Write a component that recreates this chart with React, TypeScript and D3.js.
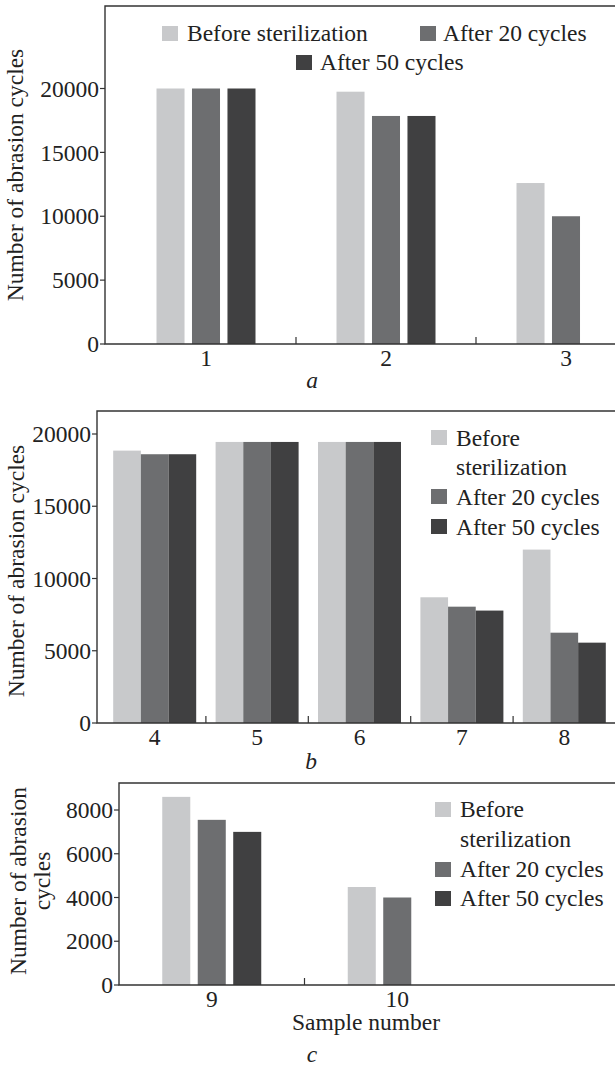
import React from "react";
import * as d3 from "d3";

const seriesNames = ["Before sterilization", "After 20 cycles", "After 50 cycles"];
const seriesColors = ["#c8c9cb", "#6d6e70", "#404041"];

// panel a
const samplesA = ["1", "2", "3"];
const beforeA = [20000, 19750, 12600];
const after20A = [20000, 17850, 10000];
const after50A = [20000, 17850, null];
const ticksA = [0, 5000, 10000, 15000, 20000];

// panel b
const samplesB = ["4", "5", "6", "7", "8"];
const beforeB = [18850, 19450, 19450, 8700, 12000];
const after20B = [18600, 19450, 19450, 8050, 6250];
const after50B = [18600, 19450, 19450, 7780, 5560];
const ticksB = [0, 5000, 10000, 15000, 20000];

// panel c
const samplesC = ["9", "10"];
const beforeC = [8600, 4480];
const after20C = [7550, 4000];
const after50C = [7000, null];
const ticksC = [0, 2000, 4000, 6000, 8000];

const FONT = '"Liberation Serif", "DejaVu Serif", "Times New Roman", serif';
const FS = 23.5;
const INK = "#333";

const panels = [
  {
    categories: samplesA,
    series: [beforeA, after20A, after50A],
    ticks: ticksA,
    yMax: 20000,
    left: 105,
    boxTop: 6,
    baseY: 344,
    topY: 88.5,
    xRange: [116, 656],
    groupW: 99,
    innerPad: 0.21,
    title: [{ text: "Number of abrasion cycles", x: 23 }],
    titleY: 175,
    letter: "a",
    letterPos: [312, 388],
    legend: [
      { sx: 162, sy: 26, tx: 187, lines: [seriesNames[0]], base: [41] },
      { sx: 420, sy: 26, tx: 443, lines: [seriesNames[1]], base: [41] },
      { sx: 296, sy: 55, tx: 320, lines: [seriesNames[2]], base: [70] },
    ],
  },
  {
    categories: samplesB,
    series: [beforeB, after20B, after50B],
    ticks: ticksB,
    yMax: 20000,
    left: 97,
    boxTop: 411,
    baseY: 723,
    topY: 434,
    xRange: [103.5, 615.5],
    groupW: 83,
    innerPad: 0,
    title: [{ text: "Number of abrasion cycles", x: 24 }],
    titleY: 571,
    letter: "b",
    letterPos: [311, 769],
    legend: [
      { sx: 431, sy: 430, tx: 456, lines: ["Before", "sterilization"], base: [446, 475] },
      { sx: 431, sy: 489, tx: 456, lines: [seriesNames[1]], base: [505] },
      { sx: 431, sy: 519, tx: 456, lines: [seriesNames[2]], base: [535] },
    ],
  },
  {
    categories: samplesC,
    series: [beforeC, after20C, after50C],
    ticks: ticksC,
    yMax: 8000,
    left: 119,
    boxTop: 783,
    baseY: 985,
    topY: 810,
    xRange: [119, 490],
    groupW: 99,
    innerPad: 0.21,
    title: [
      { text: "Number of abrasion", x: 26 },
      { text: "cycles", x: 50 },
    ],
    titleY: 881,
    letter: "c",
    letterPos: [312, 1062],
    xTitle: "Sample number",
    xTitlePos: [366, 1030],
    legend: [
      { sx: 435, sy: 802, tx: 460, lines: ["Before", "sterilization"], base: [817, 847] },
      { sx: 435, sy: 862, tx: 460, lines: [seriesNames[1]], base: [877] },
      { sx: 435, sy: 891, tx: 460, lines: [seriesNames[2]], base: [906] },
    ],
  },
];

const Panel = ({ cfg }) => {
  const y = d3.scaleLinear().domain([0, cfg.yMax]).range([cfg.baseY, cfg.topY]);
  const x0 = d3.scaleBand().domain(cfg.categories).range(cfg.xRange).padding(0);
  const x1 = d3
    .scaleBand()
    .domain(seriesNames)
    .range([0, cfg.groupW])
    .paddingInner(cfg.innerPad);
  const off = (x0.bandwidth() - cfg.groupW) / 2;
  const right = 617;

  return (
    <g style={{ fontFamily: FONT, fontSize: FS }} fill="#222">
      {/* bars */}
      {cfg.categories.map((c, i) =>
        seriesNames.map((name, s) => {
          const v = cfg.series[s][i];
          if (v == null) return null;
          return (
            <rect
              key={c + name}
              x={x0(c) + off + x1(name)}
              y={y(v)}
              width={x1.bandwidth()}
              height={cfg.baseY - y(v)}
              fill={seriesColors[s]}
            />
          );
        })
      )}

      {/* frame */}
      <path
        d={`M${right},${cfg.boxTop}H${cfg.left}V${cfg.baseY}H${right}`}
        fill="none"
        stroke={INK}
        strokeWidth={1.4}
      />

      {/* y ticks */}
      {cfg.ticks.map((t) => (
        <g key={t} transform={`translate(0,${y(t)})`}>
          <line x1={cfg.left - 5} x2={cfg.left} stroke={INK} strokeWidth={1.2} />
          <text x={cfg.left - 6} dy="0.35em" textAnchor="end">
            {t}
          </text>
        </g>
      ))}

      {/* category separators */}
      {cfg.categories.slice(1).map((c) => (
        <line
          key={"sep" + c}
          x1={x0(c)}
          x2={x0(c)}
          y1={cfg.baseY}
          y2={cfg.baseY - 7}
          stroke={INK}
          strokeWidth={1.2}
        />
      ))}

      {/* x labels */}
      {cfg.categories.map((c) => (
        <text
          key={"lab" + c}
          x={x0(c) + x0.bandwidth() / 2}
          y={cfg.baseY + 22}
          textAnchor="middle"
        >
          {c}
        </text>
      ))}

      {/* y title */}
      {cfg.title.map((t) => (
        <text
          key={t.text}
          transform={`translate(${t.x},${cfg.titleY}) rotate(-90)`}
          textAnchor="middle"
        >
          {t.text}
        </text>
      ))}

      {cfg.xTitle && (
        <text x={cfg.xTitlePos[0]} y={cfg.xTitlePos[1]} textAnchor="middle">
          {cfg.xTitle}
        </text>
      )}

      <text
        x={cfg.letterPos[0]}
        y={cfg.letterPos[1]}
        textAnchor="middle"
        fontStyle="italic"
      >
        {cfg.letter}
      </text>

      {/* legend */}
      {cfg.legend.map((l, i) => (
        <g key={"leg" + i}>
          <rect x={l.sx} y={l.sy} width={16} height={15} fill={seriesColors[i]} />
          {l.lines.map((line, j) => (
            <text key={line} x={l.tx} y={l.base[j]}>
              {line}
            </text>
          ))}
        </g>
      ))}
    </g>
  );
};

export default function App() {
  return (
    <svg
      width={615}
      height={1066}
      style={{ position: "absolute", left: 0, top: 0, background: "#fff" }}
    >
      <rect width={615} height={1066} fill="#fff" />
      {panels.map((p) => (
        <Panel key={p.letter} cfg={p} />
      ))}
    </svg>
  );
}
